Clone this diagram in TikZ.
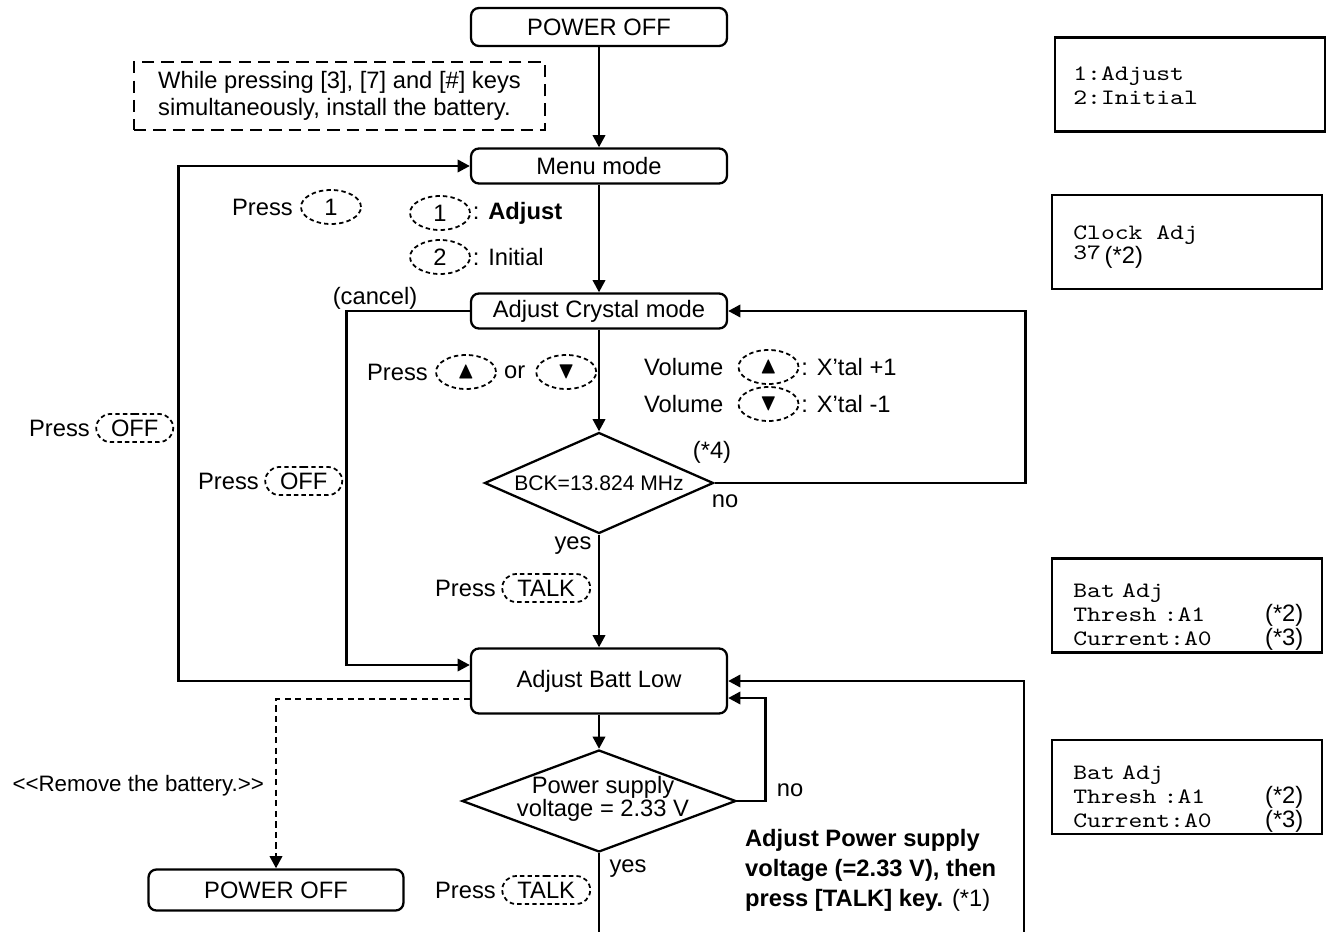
\documentclass[tikz,border=0pt]{standalone}
\usepackage{fontspec}
\usepackage{amssymb}
\setmainfont{Liberation Sans}
\newfontfamily\lcdfont{lmmono10-regular.otf}[FakeStretch=1.2]
\usepackage{tikz}
\usetikzlibrary{arrows.meta,positioning,calc,shapes.geometric,shapes.misc}

\begin{document}
\begin{tikzpicture}[
  x=0.02cm, y=-0.02cm,
  font=\fontsize{13.5}{15}\selectfont,
  inner sep=1pt,
  stepbox/.style={rectangle,rounded corners=4.5pt,draw,line width=1.3pt,minimum width=5.12cm,minimum height=0.7cm},
  notebox/.style={rectangle,draw,line width=1.3pt,dash pattern=on 7pt off 4pt,minimum width=8.22cm,minimum height=1.36cm,align=left},
  decision/.style={diamond,draw,line width=1.3pt,inner sep=0pt},
  keyoval/.style={ellipse,draw,line width=1pt,dash pattern=on 2.5pt off 1.8pt,minimum width=1.2cm,minimum height=0.68cm,inner sep=0pt},
  keypill/.style={rounded rectangle,draw,line width=1pt,dash pattern=on 2.5pt off 1.8pt,minimum height=0.56cm,inner sep=0pt},
  lcd/.style={rectangle,draw,line width=1.5pt,minimum width=5.4cm,minimum height=1.88cm},
  lcdtext/.style={anchor=west,align=left,inner sep=0pt,font=\lcdfont\fontsize{12.5}{13.7}\selectfont},
  flow/.style={line width=1.6pt,-{Triangle[length=7pt,width=7pt]}},
  dotflow/.style={flow,dash pattern=on 3.5pt off 2.5pt}
]
\useasboundingbox (0,0) rectangle (1331,932);

% main flow
\node[stepbox,minimum height=0.76cm] (poweroff) at (599,27) {POWER OFF};
\node[notebox] (note) at (339.5,96) {While pressing [3], [7] and [\#] keys\\simultaneously, install the battery.};
\node[stepbox] (menu) at (599,166) {Menu mode};
\node[stepbox] (crystal) at (599,311) {Adjust Crystal mode};
\node[decision,minimum width=4.58cm,minimum height=2.02cm] (bck) at (599,483) {};
\node[font=\fontsize{12}{14}\selectfont] (bcktext) at (bck) {BCK=13.824 MHz};
\node[stepbox,minimum height=1.3cm] (battlow) at (599,681) {Adjust Batt Low};
\node[decision,minimum width=5.48cm,minimum height=2.04cm] (supply) at (599,801) {};
\node[align=center,font=\fontsize{13.5}{13}\selectfont] (supplytext) at (603,799) {Power supply\\voltage = 2.33 V};
\node[stepbox,minimum width=5.1cm,minimum height=0.82cm] (poweroff2) at (276,890) {POWER OFF};

% connectors
\draw[flow] (poweroff) -- (menu);
\draw[flow] (menu) -- (crystal);
\draw[flow] (crystal) -- (bck);
\draw[flow] (bck) -- (battlow);
\draw[flow] (battlow) -- (supply);
\draw[flow] (battlow.west) -- ++(-291,0) |- (menu.west);
\draw[flow] (crystal.west) -- ++(-123,0) |- ($(battlow.west)+(0,-16)$);
\draw[dotflow] ($(battlow.west)+(0,18)$) -| (poweroff2.north);
\draw[flow] (bck.east) -- ++(311,0) |- (crystal.east);
\draw[flow] (supply.east) -- ++(28,0) |- ($(battlow.east)+(0,17)$);
\coordinate (fromnext) at (1024,932);
\coordinate (tonext) at (599,932);
\draw[flow] (fromnext) |- (battlow.east);
\draw[line width=1.6pt] (supply) -- (tonext);

% branch labels
\node (cancel) at (375,298) {(cancel)};
\node (star4) at (712,452) {(*4)};
\node (nobck) at (725,501) {no};
\node (yesbck) at (573,546) {yes};
\node (nosupply) at (790,790) {no};
\node (yessupply) at (628,869) {yes};
\node[anchor=east,font=\fontsize{12.7}{15}\selectfont] (removebat) at (266,786) {<\kern0pt<Remove the battery.>\kern0pt>};

% keys
\node[anchor=west] (pressone) at (230,207) {Press};
\node[keyoval,right=3pt of pressone] (keyone) {1};
\node[keyoval] (keyadj) at (440,213) {1};
\node[right=0pt of keyadj] (adjtext) {: \textbf{Adjust}};
\node[keyoval] (keyini) at (440,257) {2};
\node[right=0pt of keyini] (initext) {: Initial};
\node[anchor=west] (pressoff) at (27,428) {Press};
\node[keypill,minimum width=1.54cm,right=2pt of pressoff] (keyoff) {OFF};
\node[anchor=west] (pressoffb) at (196,481) {Press};
\node[keypill,minimum width=1.54cm,right=2pt of pressoffb] (keyoffb) {OFF};
\node[anchor=west] (pressvol) at (365,372) {Press};
\node[keyoval,right=3pt of pressvol] (keyup) {$\blacktriangle$};
\node[right=3pt of keyup] (ortext) {or};
\node[keyoval,right=4.5pt of ortext] (keydown) {$\blacktriangledown$};
\node[anchor=west] (volup) at (642,367) {Volume};
\node[keyoval,right=7pt of volup] (keyvolup) {$\blacktriangle$};
\node[right=0pt of keyvolup] (xtalup) {: X'tal +1};
\node[anchor=west] (voldown) at (642,404) {Volume};
\node[keyoval,right=7pt of voldown] (keyvoldown) {$\blacktriangledown$};
\node[right=0pt of keyvoldown] (xtaldown) {: X'tal -1};
\node[anchor=west] (presstalk) at (433,588) {Press};
\node[keypill,minimum width=1.76cm,right=2pt of presstalk] (keytalk) {TALK};
\node[anchor=west] (presstalkb) at (433,890) {Press};
\node[keypill,minimum width=1.76cm,right=2pt of presstalkb] (keytalkb) {TALK};

\node[anchor=north west,align=left,font=\fontsize{13.5}{17}\selectfont\bfseries] (adjnote) at (743,827) {Adjust Power supply\\voltage (=2.33 V), then\\press [TALK] key. {\mdseries(*1)}};

% display panels
\node[lcd] (lcdmenu) at (1190,84.5) {};
\node[lcdtext] (lcdmenutext) at (1073,86) {1:Adjust\\2:Initial};
\node[lcd] (lcdclock) at (1187,242) {};
\node[lcdtext] (lcdclocktext) at (1073,247) {Clock Adj\\\raisebox{2pt}{37}\,{\rmfamily\fontsize{13.5}{13.7}\selectfont(*2)}};
\foreach \name/\yc in {lcdbatA/605.5,lcdbatB/787} {
  \node[lcd] (\name) at (1187,\yc) {};
  \node[lcdtext,text width=4.6cm,font=\lcdfont\fontsize{12.5}{12.5}\selectfont] (\name text) at (1073,\yc+12)
    {Bat Adj\\Thresh :A1\hfill{\rmfamily\fontsize{13.5}{12.5}\selectfont(*2)}\\Current:A0\hfill{\rmfamily\fontsize{13.5}{12.5}\selectfont(*3)}};
}
\end{tikzpicture}
\end{document}
